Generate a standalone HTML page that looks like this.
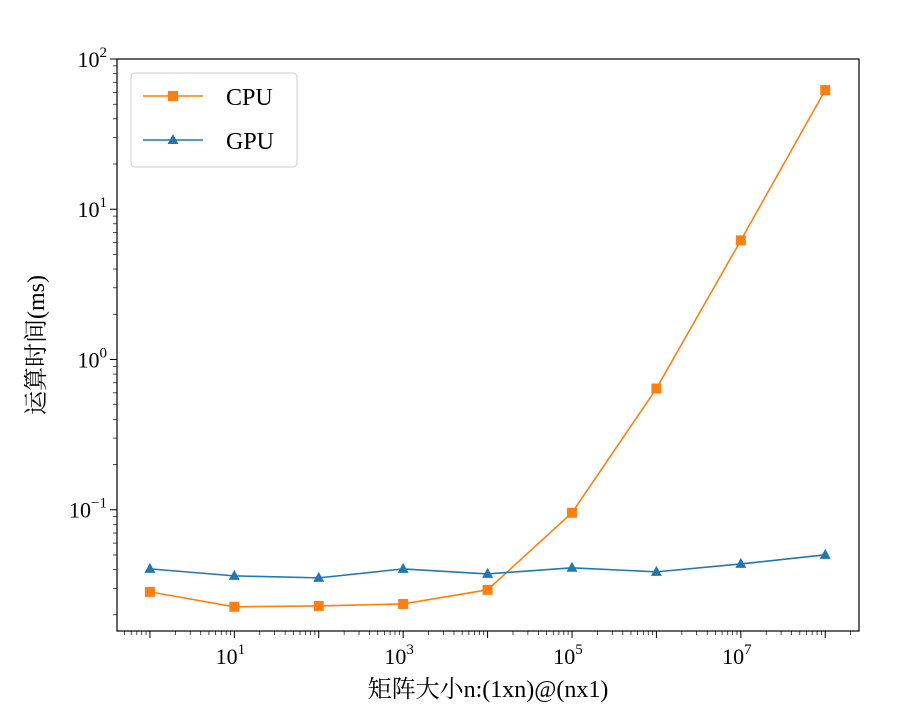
<!DOCTYPE html>
<html><head><meta charset="utf-8"><style>
body{margin:0;background:#fff}
svg{display:block;font-family:"Liberation Serif","Noto Serif CJK SC",serif}
</style></head><body>
<svg id="chart" width="900" height="725" viewBox="0 0 900 725">
<rect width="900" height="725" fill="#fff"/>
<g id="plot"></g>
</svg>
<script>
const exps = [0,1,2,3,4,5,6,7,8];
const cpuValues = [0.0284,0.0226,0.0229,0.0236,0.0293,0.0955,0.641,6.21,62.1];
const gpuValues = [0.0404,0.0363,0.0352,0.0404,0.0374,0.0411,0.0386,0.0436,0.0501];
const xTickExps = [1,3,5,7];
const yTickExps = [-1,0,1,2];
const L=117,R=859,T=59,B=631;
const xMin=-0.39,xMax=8.40,yMin=-1.807,yMax=2;
const xs=e=>L+(e-xMin)/(xMax-xMin)*(R-L);
const ys=v=>B-(Math.log10(v)-yMin)/(yMax-yMin)*(B-T);
const NS="http://www.w3.org/2000/svg";
const g=document.getElementById('plot');
function mk(t,a,p){const e=document.createElementNS(NS,t);for(const k in a)e.setAttribute(k,a[k]);(p||g).appendChild(e);return e;}
const fr=mk('rect',{x:L,y:T,width:R-L,height:B-T,fill:'none',stroke:'#000','stroke-width':1.2});


for(let d=-1;d<=8;d++){
  for(let m=1;m<10;m++){
    const e=d+Math.log10(m);
    if(e<xMin||e>xMax)continue;
    const big=m===1;
    const t=mk('line',{x1:xs(e),x2:xs(e),y1:B,y2:B+(big?7:4),stroke:'#000','stroke-width':big?1:0.7});
    
    
  }
}
xTickExps.forEach(e=>{
  const t=mk('text',{x:xs(e)-4,y:B+33,'text-anchor':'middle','font-size':22});
  t.innerHTML='10<tspan dy="-10" font-size="15">'+e+'</tspan>';
  
  
});
for(let d=-2;d<=2;d++){
  for(let m=1;m<10;m++){
    const e=d+Math.log10(m);
    if(e<yMin||e>yMax+0.001)continue;
    const big=m===1;
    const y=ys(Math.pow(10,e));
    const t=mk('line',{x1:L,x2:L-(big?7:4),y1:y,y2:y,stroke:'#000','stroke-width':big?1:0.7});
    
    
  }
}
yTickExps.forEach(e=>{
  const t=mk('text',{x:L-10,y:ys(Math.pow(10,e))+8,'text-anchor':'end','font-size':22});
  t.innerHTML='10<tspan dy="-10" font-size="15">'+(e<0?'−'+(-e):String(e))+'</tspan>';
  
  
});
function series(vals,color,marker,name){
  const pts=vals.map((v,i)=>xs(exps[i])+','+ys(v)).join(' ');
  const pl=mk('polyline',{points:pts,fill:'none',stroke:color,'stroke-width':1.6});
  
  
  vals.forEach((v,i)=>{
    const x=xs(exps[i]),y=ys(v);
    let m;
    if(marker==='s') m=mk('rect',{x:x-5,y:y-5,width:10,height:10,fill:color});
    else m=mk('polygon',{points:`${x},${y-6} ${x+5.5},${y+4} ${x-5.5},${y+4}`,fill:color});
    
    
  });
}
series(cpuValues,'#ff7f0e','s','cpu');
series(gpuValues,'#1f77b4','t','gpu');
const lg=mk('g',{});


mk('rect',{x:131,y:73,width:166,height:94,rx:4,fill:'#fff',stroke:'#ccc'},lg);
mk('line',{x1:143,x2:203,y1:96,y2:96,stroke:'#ff7f0e','stroke-width':1.6},lg);
mk('rect',{x:168,y:91,width:10,height:10,fill:'#ff7f0e'},lg);
mk('text',{x:226,y:105,'font-size':24},lg).textContent='CPU';
mk('line',{x1:143,x2:203,y1:140,y2:140,stroke:'#1f77b4','stroke-width':1.6},lg);
mk('polygon',{points:'173,134 178.5,144 167.5,144',fill:'#1f77b4'},lg);
mk('text',{x:226,y:149,'font-size':24},lg).textContent='GPU';
const xt=mk('text',{x:488,y:697,'text-anchor':'middle','font-size':24});
xt.textContent='矩阵大小n:(1xn)@(nx1)';


const yt=mk('text',{x:0,y:0,'text-anchor':'middle','font-size':24,transform:'translate(44,345) rotate(-90)'});
yt.textContent='运算时间(ms)';


</script>
</body></html>
